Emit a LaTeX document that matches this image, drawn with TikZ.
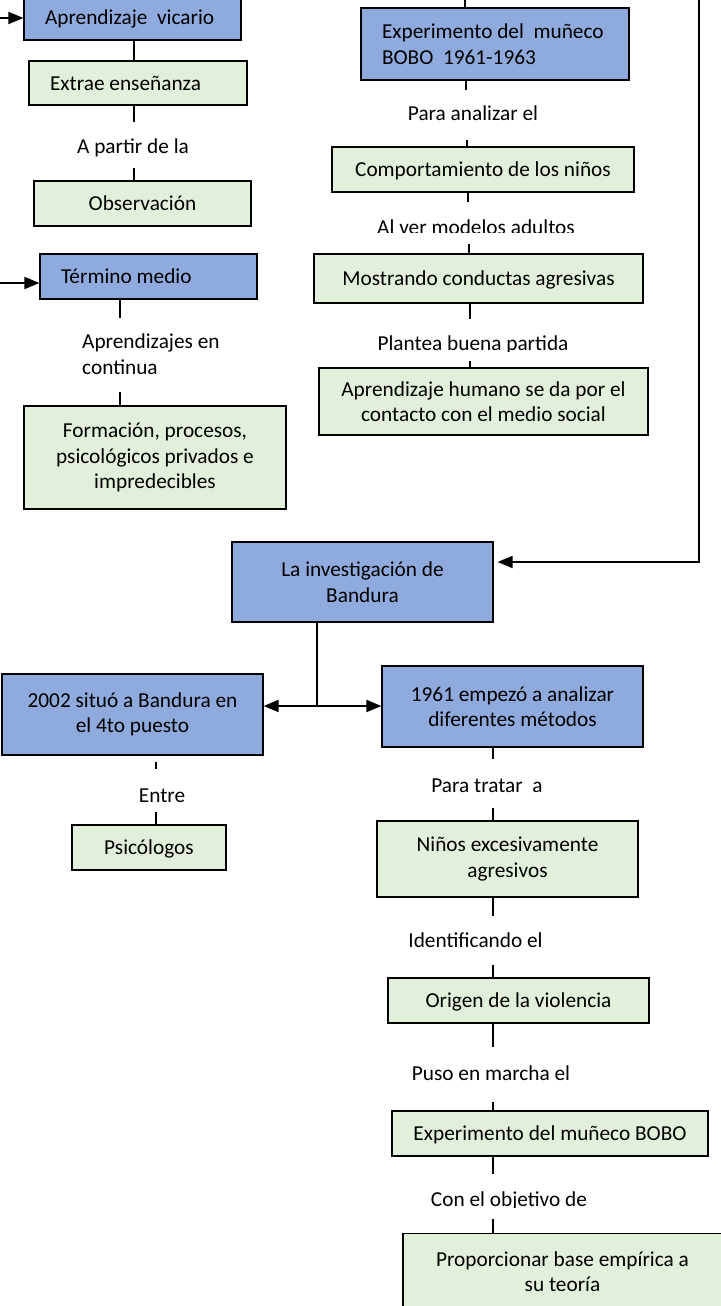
\documentclass[tikz,border=0pt]{standalone}
\usepackage{fontspec}
\setmainfont{Carlito}
\usetikzlibrary{arrows.meta}
\definecolor{bluef}{HTML}{8FAADC}
\definecolor{greenf}{HTML}{E2EFDA}
\newcommand\myfs{\fontsize{21.3}{25.5}\selectfont}
\begin{document}
\begin{tikzpicture}[x=1pt,y=-1pt,
  box/.style={draw=black, line width=1.2pt, inner sep=0pt, align=center, font=\myfs},
  bluebox/.style={box, fill=bluef},
  greenbox/.style={box, fill=greenf},
  one/.style={text height=14pt, text depth=0pt},
  lbox/.style={align=flush left, inner xsep=21pt, text width=#1},
  lbl/.style={inner sep=0pt, anchor=base, font=\myfs},
  con/.style={line width=1.8pt},
  arr/.style={con, -{Triangle[length=15pt,width=12pt]}}]
\useasboundingbox (0,0) rectangle (720,1306);

% ---------- boxes ----------
\node[bluebox, one, lbox=175pt, minimum width=217pt, minimum height=44pt] (av) at (132.5,18) {Aprendizaje~ vicario};
\node[greenbox, one, lbox=176pt, minimum width=218pt, minimum height=44pt] (ext) at (138,83) {Extrae enseñanza};
\node[greenbox, one, minimum width=217pt, minimum height=45pt] (obs) at (142.5,203.5) {Observación};
\node[bluebox, one, lbox=175pt, minimum width=217pt, minimum height=45pt] (tm) at (148.5,276.5) {Término medio};
\node[greenbox, minimum width=262pt, minimum height=103pt] (form) at (155,457.5) {Formación, procesos,\\psicológicos privados e\\impredecibles};

\node[bluebox, lbox=226pt, minimum width=268pt, minimum height=72pt] (exp1) at (495,44) {Experimento del~ muñeco\\BOBO~ 1961-1963};
\node[greenbox, one, minimum width=302pt, minimum height=45pt] (comp) at (483,169.5) {Comportamiento de los niños};
\node[greenbox, one, minimum width=329pt, minimum height=49pt] (most) at (478.5,278.5) {Mostrando conductas agresivas};
\node[greenbox, minimum width=329pt, minimum height=67pt] (ahum) at (483.5,401.5) {Aprendizaje humano se da por el\\contacto con el medio social};

\node[bluebox, minimum width=261pt, minimum height=80pt] (band) at (362.5,582) {La investigación de\\Bandura};
\node[bluebox, minimum width=261pt, minimum height=81pt] (b2002) at (132.5,714.5) {2002 situó a Bandura en\\el 4to puesto};
\node[bluebox, minimum width=261pt, minimum height=81pt] (m1961) at (512.5,706.5) {1961 empezó a analizar\\diferentes métodos};
\node[greenbox, one, minimum width=154pt, minimum height=45pt] (psi) at (149,847.5) {Psicólogos};

\node[greenbox, minimum width=261pt, minimum height=76pt] (ninos) at (507.5,859) {Niños excesivamente\\agresivos};
\node[greenbox, one, minimum width=261pt, minimum height=45pt] (orig) at (518.5,1000.5) {Origen de la violencia};
\node[greenbox, one, minimum width=316pt, minimum height=45pt] (expb) at (550,1133.5) {Experimento del muñeco BOBO};
\node[greenbox, anchor=north, minimum width=319pt, inner ysep=18pt, text depth=60pt] (prop) at (562.5,1233) {Proporcionar base empírica a\\su teoría};

% ---------- labels ----------
\node[lbl] (l1) at (133,153) {A partir de la};
\begin{scope}
  \clip (60,320) rectangle (300,377.5);
  \node[inner sep=0pt, anchor=north west, align=left, font=\myfs] (l2) at (82,334) {Aprendizajes en\\continua};
\end{scope}
\node[lbl] (l3) at (473,120) {Para analizar el};
\begin{scope}
  \clip (340,205) rectangle (620,232.5);
  \node[lbl] (l4) at (476,234) {Al ver modelos adultos};
\end{scope}
\begin{scope}
  \clip (340,320) rectangle (620,351);
  \node[lbl] (l5) at (473,350) {Plantea buena partida};
\end{scope}
\node[lbl] (l6) at (162,802) {Entre};
\node[lbl] (l7) at (487,792) {Para tratar~ a};
\node[lbl] (l8) at (475.5,947) {Identificando el};
\node[lbl] (l9) at (491,1080) {Puso en marcha el};
\begin{scope}
  \clip (400,1175) rectangle (640,1207);
  \node[lbl] (l10) at (509,1206.5) {Con el objetivo de};
\end{scope}

% ---------- connectors ----------
\coordinate (c1) at (134,122);
\draw[con] (av.south -| c1) -- (ext.north -| c1);
\draw[con] (ext.south -| c1) -- (c1);
\coordinate (c2) at (134,168);
\draw[con] (c2) -- (c2 |- obs.north);
\coordinate (inA) at (0,18);
\draw[arr] (inA) -- (inA -| av.west);
\coordinate (inT) at (0,283);
\draw[arr] (inT) -- (inT -| tm.west);
\coordinate (c3) at (120,318);
\draw[con] (tm.south -| c3) -- (c3);
\coordinate (c4) at (120,392);
\draw[con] (c4) -- (c4 |- form.north);

\coordinate (top1) at (465,-2);
\draw[con] (top1) -- (top1 |- exp1.north);
\coordinate (c5) at (466,90);
\draw[con] (exp1.south -| c5) -- (c5);
\coordinate (c6) at (467,140);
\draw[con] (c6) -- (c6 |- comp.north);
\coordinate (c7) at (468,202);
\draw[con] (comp.south -| c7) -- (c7);
\coordinate (c8) at (469,244);
\draw[con] (c8) -- (c8 |- most.north);
\coordinate (c9) at (470,319);
\draw[con] (most.south -| c9) -- (c9);
\coordinate (c10) at (470,361);
\draw[con] (c10) -- (c10 |- ahum.north);

\coordinate (top2) at (699,-2);
\coordinate (corner) at (699,562);
\draw[arr, shorten >=4pt] (top2) -- (corner) -- (corner -| band.east);

\coordinate (split) at (317,706);
\draw[con] (band.south -| split) -- (split);
\draw[arr] (split) -- (split -| b2002.east);
\draw[arr] (split) -- (split -| m1961.west);

\coordinate (c11) at (156,769);
\draw[con] (b2002.south -| c11) ++(0,6) -- (c11);
\coordinate (c12) at (156,812);
\draw[con] (c12) -- (c12 |- psi.north);

\coordinate (c14) at (493,759);
\draw[con] (m1961.south -| c14) -- (c14);
\coordinate (c15) at (493,808);
\draw[con] (c15) -- (c15 |- ninos.north);
\coordinate (c16) at (493,916);
\draw[con] (ninos.south -| c16) -- (c16);
\coordinate (c17) at (493,965);
\draw[con] (c17) -- (c17 |- orig.north);
\coordinate (c18) at (493,1047);
\draw[con] (orig.south -| c18) -- (c18);
\coordinate (c19) at (493,1102);
\draw[con] (c19) -- (c19 |- expb.north);
\coordinate (c20) at (493,1174);
\draw[con] (expb.south -| c20) -- (c20);
\coordinate (c21) at (493,1219);
\draw[con] (c21) -- (c21 |- prop.north);
\end{tikzpicture}
\end{document}
